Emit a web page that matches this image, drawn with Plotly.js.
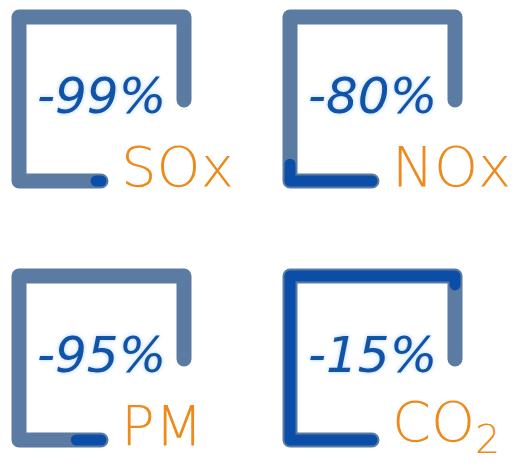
<!DOCTYPE html>
<html>
<head>
<meta charset="utf-8">
<script src="https://cdn.plot.ly/plotly-3.0.1.min.js"></script>
<style>
html,body{margin:0;padding:0;background:#fff;}
#chart{width:523px;height:471px;}
</style>
</head>
<body>
<div id="chart"></div>
<script>
// ---- data ----
const pollutants = ['SOx', 'NOx', 'PM', 'CO<sub>2</sub>'];
const reductions = [99, 80, 95, 15];   // percent reduction

// ---- layout helpers (geometry, not data) ----
const panelOffsets = [[0, 0], [271, 0], [0, 259], [271, 259]];
const trackLocal = [[101, 181], [19, 181], [19, 17], [184, 17], [184, 100]];

const trackColor = '#5b7ba2';
const fillColor = '#0b4ea8';
const pctColor = '#1153a7';
const labelColor = '#ee8a1c';

function segLen(a, b) { return Math.hypot(b[0] - a[0], b[1] - a[1]); }
function totalLen(pts) { let s = 0; for (let i = 1; i < pts.length; i++) s += segLen(pts[i - 1], pts[i]); return s; }
function partialPath(pts, frac) {
  let remaining = totalLen(pts) * frac;
  const out = [pts[0]];
  for (let i = 1; i < pts.length; i++) {
    const L = segLen(pts[i - 1], pts[i]);
    if (remaining >= L) { out.push(pts[i]); remaining -= L; }
    else {
      const t = remaining / L;
      out.push([pts[i - 1][0] + t * (pts[i][0] - pts[i - 1][0]), pts[i - 1][1] + t * (pts[i][1] - pts[i - 1][1])]);
      break;
    }
  }
  return out;
}

const traces = [];
const annotations = [];
pollutants.forEach((name, i) => {
  const [ox, oy] = panelOffsets[i];
  const track = trackLocal.map(p => [p[0] + ox, p[1] + oy]);
  traces.push({
    type: 'scatter', mode: 'lines', hoverinfo: 'skip', showlegend: false,
    x: track.map(p => p[0]), y: track.map(p => p[1]),
    line: { color: trackColor, width: 15 }
  });
  const remain = (100 - reductions[i]) / 100;
  const part = partialPath(track, remain);
  traces.push({
    type: 'scatter', mode: 'lines', hoverinfo: 'skip', showlegend: false,
    x: part.map(p => p[0]), y: part.map(p => p[1]),
    line: { color: fillColor, width: 11 }
  });
  annotations.push({
    xref: 'x', yref: 'y', x: ox + 101, y: oy + 96, xanchor: 'center', yanchor: 'middle',
    showarrow: false, text: '-' + reductions[i] + '%',
    font: { family: 'DejaVu Sans', size: 50, color: pctColor, style: 'italic',
            shadow: '0 0 3px #bcd8ff, 0 0 6px #d6e8ff' }
  });
  annotations.push({
    xref: 'x', yref: 'y', x: ox + 119, y: oy + 166, xanchor: 'left', yanchor: 'middle',
    showarrow: false, text: name,
    font: { family: 'DejaVu Sans', size: 56, color: labelColor, weight: 300 }
  });
});

const layout = {
  width: 523, height: 471,
  margin: { l: 0, r: 0, t: 0, b: 0 },
  paper_bgcolor: '#ffffff', plot_bgcolor: '#ffffff',
  xaxis: { range: [0, 523], visible: false, fixedrange: true },
  yaxis: { range: [471, 0], visible: false, fixedrange: true },
  annotations: annotations,
  showlegend: false
};

Plotly.newPlot('chart', traces, layout, { displayModeBar: false, staticPlot: true }).then(gd => {
  gd.querySelectorAll('.scatterlayer path.js-line').forEach(p => {
    p.style.strokeLinecap = 'round';
    p.style.strokeLinejoin = 'round';
  });
});
</script>
</body>
</html>
